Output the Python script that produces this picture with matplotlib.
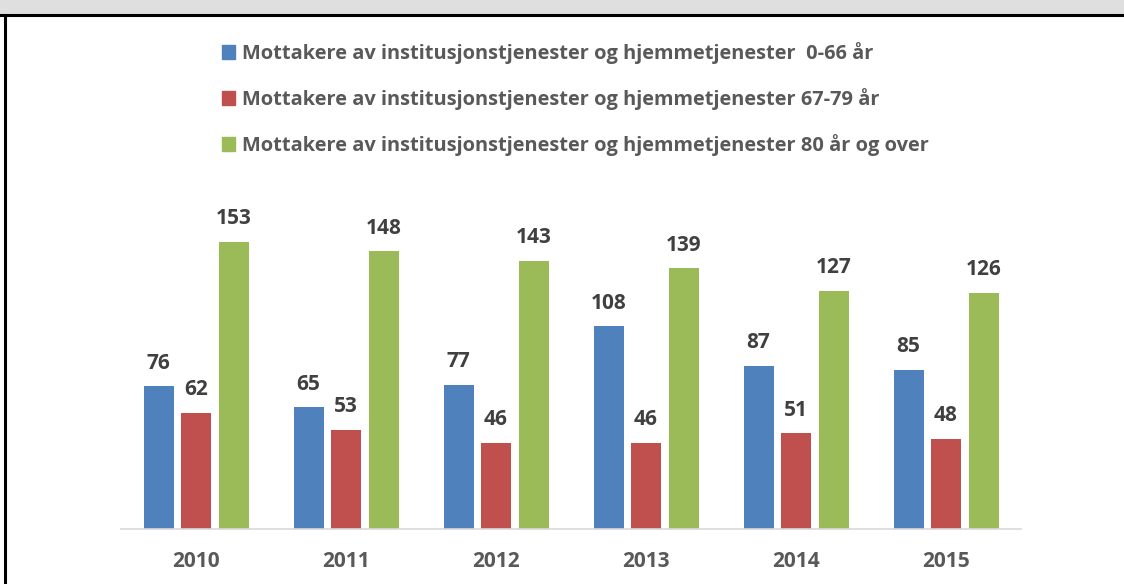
import matplotlib.pyplot as plt
import numpy as np
from matplotlib.patches import Rectangle
from matplotlib.lines import Line2D

# data
years = ['2010', '2011', '2012', '2013', '2014', '2015']
age_0_66 = [76, 65, 77, 108, 87, 85]
age_67_79 = [62, 53, 46, 46, 51, 48]
age_80_plus = [153, 148, 143, 139, 127, 126]
labels = ['Mottakere av institusjonstjenester og hjemmetjenester  0-66 år',
          'Mottakere av institusjonstjenester og hjemmetjenester 67-79 år',
          'Mottakere av institusjonstjenester og hjemmetjenester 80 år og over']
colors = ['#4F81BD', '#C0504D', '#9BBB59']

plt.rcParams['font.family'] = ['Open Sans', 'DejaVu Sans']
plt.rcParams['font.weight'] = 'bold'

W, H = 1124, 584
fig = plt.figure(figsize=(W / 100, H / 100), dpi=100)
fig.patch.set_facecolor('white')

# axes placed in pixel terms: baseline y=529, categories from x=121 to 1021
ymax = 180
px_per_unit = 287 / 153
top_px = 529 - ymax * px_per_unit
ax = fig.add_axes([121 / W, 55 / H, 900 / W, (529 - top_px) / H])

x = np.arange(len(years))
series = [age_0_66, age_67_79, age_80_plus]
offsets = [-0.25, 0, 0.25]
for vals, off, col, lab in zip(series, offsets, colors, labels):
    bars = ax.bar(x + off, vals, width=0.2, color=col, label=lab)
    ax.bar_label(bars, padding=9, fontsize=15, fontweight='bold', color='#404040')

ax.set_xlim(-0.5, 5.5)
ax.set_ylim(0, ymax)
ax.set_xticks(x)
ax.set_xticklabels(years, fontsize=15, fontweight='bold', color='#595959')
ax.tick_params(axis='x', length=0, pad=16)
ax.set_yticks([])
for s in ['top', 'right', 'left']:
    ax.spines[s].set_visible(False)
ax.spines['bottom'].set_color('#D9D9D9')
ax.spines['bottom'].set_linewidth(1.2)
ax.set_facecolor('none')

# legend
handles = [Rectangle((0, 0), 1, 1, color=c) for c in colors]
fig.legend(handles, labels, loc='upper left', bbox_to_anchor=(222 / W, 1 - 42 / H),
           frameon=False, handlelength=0.65, handleheight=0.65,
           handletextpad=0.35, labelspacing=1.2, borderpad=0, borderaxespad=0,
           labelcolor='#595959', prop={'weight': 'bold', 'size': 14.4})

# header strip and frame lines
fig.patches.append(Rectangle((0, 1 - 15 / H), 1, 15 / H, transform=fig.transFigure,
                             facecolor='#DFDFDF', edgecolor='none', zorder=0))
fig.lines.append(Line2D([0, 1], [1 - 15 / H, 1 - 15 / H], transform=fig.transFigure,
                        color='black', linewidth=2.2))
fig.lines.append(Line2D([5 / W, 5 / W], [0, 1 - 15 / H], transform=fig.transFigure,
                        color='black', linewidth=2.2))

fig.savefig('out.png', dpi=100)
